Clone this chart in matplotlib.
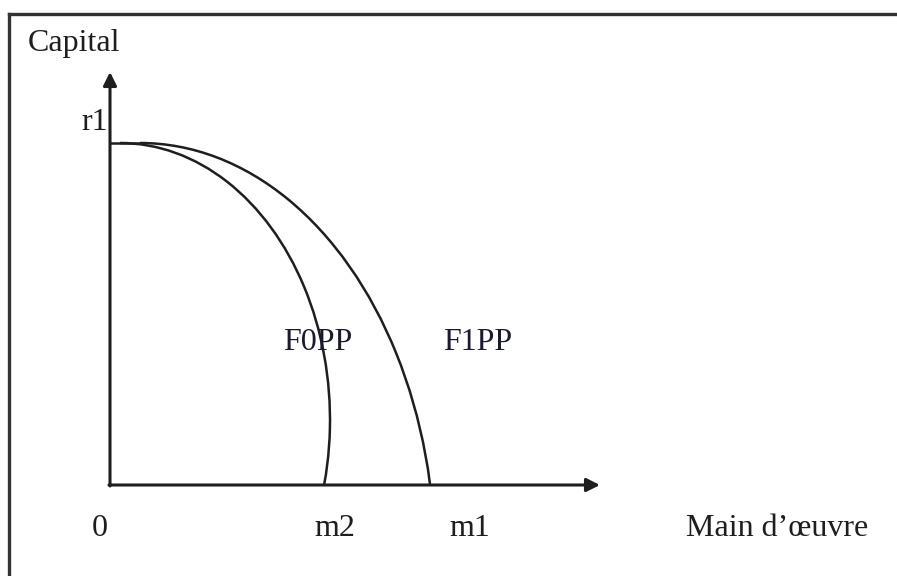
import matplotlib
matplotlib.use("Agg")
import matplotlib.pyplot as plt
from matplotlib.patches import Arc, Rectangle
from matplotlib.lines import Line2D

# ---- values (data units: origin at the axes corner) ----
r1 = 3.42            # top of both frontiers on the capital axis
m2 = 2.14            # F0PP meets the labour axis
m1 = 3.20            # F1PP meets the labour axis
curve_names = ["F0PP", "F1PP"]
curve_centers = [(0.10, 0.65), (0.30, -0.75)]   # ellipse centres
curve_semi_x = [2.10, 2.95]
curve_semi_y = [2.77, 4.17]
x_tick_labels = ["0", "m2", "m1"]
x_label_pos = [-0.10, 2.25, 3.60]
x_axis_title = "Main d\u2019\u0153uvre"
y_axis_title = "Capital"
y_tick_label = "r1"
x_arrow_end = 4.90
y_arrow_end = 4.13

W, H = 897, 576
fig = plt.figure(figsize=(W / 100, H / 100), dpi=100)
ax = fig.add_axes([0, 0, 1, 1])
ax.set_xlim(-1.10, 7.87)
ax.set_ylim(-0.91, 4.85)
ax.axis("off")

ink = "#1e1e1e"
serif = ["Liberation Serif", "DejaVu Serif"]

# frame lines (top and left only)
fig.add_artist(Line2D([9 / W, 1], [1 - 14 / H, 1 - 14 / H], transform=fig.transFigure,
                      color="#333333", lw=2.4))
fig.add_artist(Line2D([9 / W, 9 / W], [0, 1 - 14 / H], transform=fig.transFigure,
                      color="#333333", lw=2.4))

# axes with arrows
ax.annotate("", xy=(x_arrow_end, 0), xytext=(-0.01, 0),
            arrowprops=dict(arrowstyle="-|>", lw=2.2, color=ink, mutation_scale=20,
                            shrinkA=0, shrinkB=0))
ax.annotate("", xy=(0, y_arrow_end), xytext=(0, -0.01),
            arrowprops=dict(arrowstyle="-|>", lw=2.2, color=ink, mutation_scale=20,
                            shrinkA=0, shrinkB=0))

# short flat segment at r1
ax.plot([0, curve_centers[1][0]], [r1, r1], color=ink, lw=1.8, solid_capstyle="butt")

# frontiers (quarter ellipses clipped at the labour axis)
clip = Rectangle((0, 0), 10, 10, transform=ax.transData, visible=False)
ax.add_patch(clip)
for (cx, cy), a, b in zip(curve_centers, curve_semi_x, curve_semi_y):
    arc = Arc((cx, cy), 2 * a, 2 * b, theta1=-40, theta2=90, color=ink, lw=1.8)
    ax.add_patch(arc)
    arc.set_clip_path(clip)

# curve labels
ax.text(2.08, 1.43, curve_names[0], fontsize=23, family=serif, color="#1a1a2e",
        ha="center", va="center")
ax.text(3.68, 1.43, curve_names[1], fontsize=23, family=serif, color="#1a1a2e",
        ha="center", va="center")

# axis labels
for lab, xp in zip(x_tick_labels, x_label_pos):
    ax.text(xp, -0.43, lab, fontsize=23, family=serif, color=ink, ha="center", va="center")
ax.text(6.67, -0.43, x_axis_title, fontsize=23, family=serif, color=ink,
        ha="center", va="center")
ax.text(-0.36, 4.42, y_axis_title, fontsize=23, family=serif, color=ink,
        ha="center", va="center")
ax.text(-0.15, 3.63, y_tick_label, fontsize=23, family=serif, color=ink,
        ha="center", va="center")

fig.savefig("out.png", dpi=100, facecolor="white")
